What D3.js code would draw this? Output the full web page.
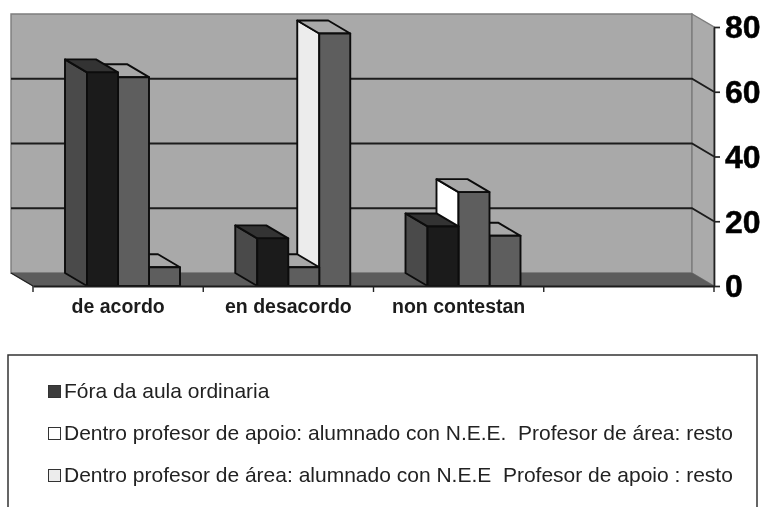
<!DOCTYPE html>
<html lang="gl">
<head>
<meta charset="UTF-8">
<title>chart</title>
<script src="https://cdnjs.cloudflare.com/ajax/libs/d3/7.8.5/d3.min.js"></script>
<style>
  html, body { margin: 0; padding: 0; background: #fff; }
  svg { display: block; filter: blur(0.35px); }
  text { font-family: "Liberation Sans", Arial, sans-serif; fill: #111; }
  .cat text { font-size: 19.5px; font-weight: bold; fill: #1c1c1c; }
  .val text { font-size: 32px; font-weight: bold; fill: #000; }
  .legend text { font-size: 21px; fill: #222; }
</style>
</head>
<body>
<svg id="chart" width="765" height="507"></svg>
<script>
var categories = ["de acordo", "en desacordo", "non contestan", ""];
var seriesNames = [
  "Fóra da aula ordinaria",
  "Dentro profesor de apoio: alumnado con N.E.E.  Profesor de área: resto",
  "Dentro profesor de área: alumnado con N.E.E  Profesor de apoio : resto"
];
var foraAula = [66, 14.7, 18.4];
var dentroApoio = [64.5, 5.8, 29];
var dentroArea = [5.8, 78, 15.5];
var yTicks = [0, 20, 40, 60, 80];

var seriesValues = [foraAula, dentroApoio, dentroArea];

// front, top and left face of each series
var faces = [
  { front: "#1b1b1b", top: "#333333", side: "#4a4a4a" },
  { front: "#5e5e5e", top: "#a8a8a8", side: "#ffffff" },
  { front: "#5e5e5e", top: "#a8a8a8", side: "#ececec" }
];
var legendFill = ["#3c3c3c", "#ffffff", "#ececec"];

var svg = d3.select("#chart");

// the 3d box: front plane is what the scales give, back plane is shifted
var dx = 22, dy = 13;
var plotLeft = 33, plotRight = 714, plotBase = 286, plotTop = 27;

var x = d3.scaleBand().domain(d3.range(categories.length)).range([plotLeft, plotRight]);
var inner = d3.scaleBand().domain(d3.range(seriesNames.length)).range([54, 147]);
var y = d3.scaleLinear().domain([0, 80]).range([plotBase, plotTop]);

function pts(a) { return a.map(function (p) { return p.join(","); }).join(" "); }

// back wall, right wall, floor
svg.append("polygon")
  .attr("points", pts([[plotLeft - dx, plotTop - dy], [plotRight - dx, plotTop - dy], [plotRight - dx, plotBase - dy], [plotLeft - dx, plotBase - dy]]))
  .attr("fill", "#a9a9a9").attr("stroke", "#7d7d7d").attr("stroke-width", 1.4);
svg.append("polygon")
  .attr("points", pts([[plotRight - dx, plotTop - dy], [plotRight, plotTop], [plotRight, plotBase], [plotRight - dx, plotBase - dy]]))
  .attr("fill", "#ababab").attr("stroke", "#7d7d7d").attr("stroke-width", 1.4);
svg.append("polygon")
  .attr("points", pts([[plotLeft - dx, plotBase - dy], [plotRight - dx, plotBase - dy], [plotRight, plotBase], [plotLeft, plotBase]]))
  .attr("fill", "#5c5c5c").attr("stroke", "#5c5c5c").attr("stroke-width", 0.5);

// gridlines, they bend round the right wall
var gridLine = d3.line();
svg.append("g").selectAll("path")
  .data(yTicks.filter(function (t) { return t > 0 && t < 80; }))
  .enter().append("path")
  .attr("d", function (t) {
    return gridLine([[plotLeft - dx, y(t) - dy], [plotRight - dx, y(t) - dy], [plotRight, y(t)]]);
  })
  .attr("fill", "none").attr("stroke", "#1c1c1c").attr("stroke-width", 1.8);

// left edge of the floor
svg.append("line")
  .attr("x1", plotLeft - dx).attr("y1", plotBase - dy).attr("x2", plotLeft).attr("y2", plotBase)
  .attr("stroke", "#222").attr("stroke-width", 1.4);

// bars, right to left inside each group so the left ones cover the next side face
var bars = [];
categories.slice(0, 3).forEach(function (c, ci) {
  d3.range(seriesNames.length).reverse().forEach(function (si) {
    bars.push({ cat: ci, s: si, value: seriesValues[si][ci] });
  });
});

var bar = svg.append("g").selectAll("g")
  .data(bars)
  .enter().append("g")
  .attr("stroke", "#0c0c0c").attr("stroke-width", 1.9).attr("stroke-linejoin", "round");

function bx0(d) { return x(d.cat) + inner(d.s); }
function bx1(d) { return bx0(d) + inner.bandwidth(); }

bar.append("polygon")
  .attr("fill", function (d) { return faces[d.s].side; })
  .attr("points", function (d) {
    return pts([[bx0(d) - dx, y(d.value) - dy], [bx0(d), y(d.value)], [bx0(d), plotBase], [bx0(d) - dx, plotBase - dy]]);
  });
bar.append("polygon")
  .attr("fill", function (d) { return faces[d.s].top; })
  .attr("points", function (d) {
    return pts([[bx0(d) - dx, y(d.value) - dy], [bx1(d) - dx, y(d.value) - dy], [bx1(d), y(d.value)], [bx0(d), y(d.value)]]);
  });
bar.append("rect")
  .attr("fill", function (d) { return faces[d.s].front; })
  .attr("x", bx0)
  .attr("y", function (d) { return y(d.value); })
  .attr("width", inner.bandwidth())
  .attr("height", function (d) { return plotBase - y(d.value); });

// category axis: labels from the band scale, ticks on the band edges
var catAxis = svg.append("g").attr("class", "cat")
  .attr("transform", "translate(0," + plotBase + ")")
  .call(d3.axisBottom(x).tickSize(0).tickPadding(13).tickFormat(function (i) { return categories[i]; }));
catAxis.select(".domain").attr("stroke", "#1c1c1c").attr("stroke-width", 2.2);
catAxis.selectAll(".edge")
  .data(x.domain().map(function (i) { return x(i); }).concat([plotRight]))
  .enter().append("line").attr("class", "edge")
  .attr("x1", function (d) { return d; }).attr("x2", function (d) { return d; })
  .attr("y1", 0).attr("y2", 6)
  .attr("stroke", "#222").attr("stroke-width", 1.4);

// value axis on the right
var valAxis = svg.append("g").attr("class", "val")
  .attr("transform", "translate(" + plotRight + ",0)")
  .call(d3.axisRight(y).tickValues(yTicks).tickSize(6).tickPadding(5).tickSizeOuter(0));
valAxis.select(".domain").attr("stroke", "#222").attr("stroke-width", 1.7);
valAxis.selectAll(".tick line").attr("stroke", "#222").attr("stroke-width", 1.7);
valAxis.selectAll(".tick text").attr("dy", "0.34em").attr("stroke", "#000").attr("stroke-width", 0.5);

// legend box, cut by the bottom of the picture
svg.append("path")
  .attr("d", "M8,507V355H757V507")
  .attr("fill", "none").attr("stroke", "#333").attr("stroke-width", 1.5);

var legend = svg.append("g").attr("class", "legend").selectAll("g")
  .data(seriesNames)
  .enter().append("g")
  .attr("transform", function (d, i) { return "translate(48," + (391 + i * 42) + ")"; });
legend.append("rect")
  .attr("x", 0.5).attr("y", -5.5).attr("width", 12).attr("height", 12)
  .attr("fill", function (d, i) { return legendFill[i]; })
  .attr("stroke", "#333").attr("stroke-width", 1);
legend.append("text")
  .attr("x", 16).attr("y", 7)
  .style("white-space", "pre")
  .text(function (d) { return d; });
</script>
</body>
</html>
